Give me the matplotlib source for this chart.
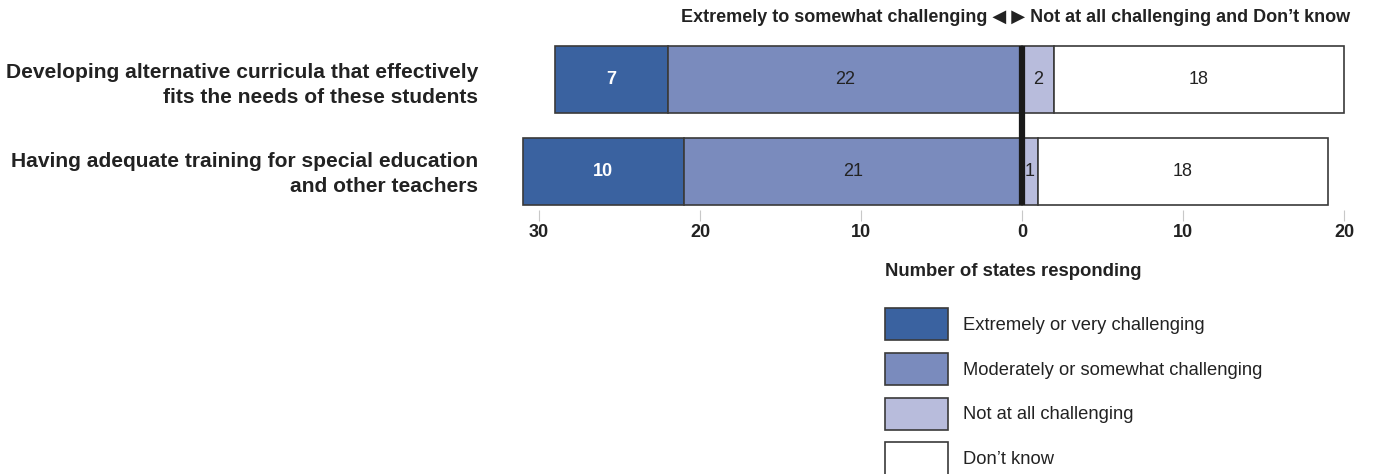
import matplotlib
matplotlib.use("Agg")
import matplotlib.pyplot as plt
from matplotlib.patches import Patch
from matplotlib import font_manager

categories = ["Developing alternative curricula that effectively\nfits the needs of these students",
              "Having adequate training for special education\nand other teachers"]
extremely = [7, 10]
moderately = [22, 21]
not_at_all = [2, 1]
dont_know = [18, 18]
series_names = ["Extremely or very challenging", "Moderately or somewhat challenging",
                "Not at all challenging", "Don\u2019t know"]
tick_values = [-30, -20, -10, 0, 10, 20]
tick_labels = ["30", "20", "10", "0", "10", "20"]

colors = ["#3A62A0", "#7A8BBD", "#B8BCDC", "#FFFFFF"]
edge = "#3a3a3a"

names = {f.name for f in font_manager.fontManager.ttflist}
narrow = "Liberation Sans Narrow" if "Liberation Sans Narrow" in names else "Liberation Sans"
plt.rcParams['font.family'] = ['Liberation Sans', 'DejaVu Sans']

W, H = 1390, 474
fig = plt.figure(figsize=(W/100, H/100), dpi=100)

# axes in pixel placement
scale = 16.1
x0pix = 1022
xmin, xmax = -31.3, 20.3
left_pix = x0pix + xmin*scale
right_pix = x0pix + xmax*scale
top_pix, bot_pix = 40, 210
ax = fig.add_axes([left_pix/W, 1-bot_pix/H, (right_pix-left_pix)/W, (bot_pix-top_pix)/H])
ax.set_xlim(xmin, xmax)
ypix0, ypitch = 79.5, 92
ax.set_ylim((bot_pix-ypix0)/ypitch, -(ypix0-top_pix)/ypitch)

ys = list(range(len(categories)))
bh = 0.73
for i, y in enumerate(ys):
    segs = [(-(extremely[i]+moderately[i]), extremely[i], colors[0]),
            (-moderately[i], moderately[i], colors[1]),
            (0, not_at_all[i], colors[2]),
            (not_at_all[i], dont_know[i], colors[3])]
    vals = [extremely[i], moderately[i], not_at_all[i], dont_know[i]]
    for k, (start, width, c) in enumerate(segs):
        ax.barh(y, width, left=start, height=bh, color=c, edgecolor=edge, linewidth=1.2, zorder=2)
        cx = start + width/2
        ax.text(cx, y, str(vals[k]), ha="center", va="center",
                color="white" if k == 0 else "#222222",
                fontweight="bold" if k == 0 else "normal", fontsize=13, zorder=4)

ax.vlines(0, -bh/2, 1+bh/2, color="#1a1a1a", linewidth=4.5, zorder=3)

for s in ax.spines.values():
    s.set_visible(False)
ax.set_yticks([])
ax.set_xticks(tick_values)
ax.set_xticklabels(tick_labels, fontfamily=narrow, fontweight="bold", fontsize=13)
ax.tick_params(axis="x", length=8, width=0.8, color="#c8c8c8", pad=2, labelcolor="#222222")

label_ypix = [85, 174]
for i, y in enumerate(ys):
    fig.text(478/W, 1-label_ypix[i]/H, categories[i], ha="right", va="center", fontsize=15.1,
             fontweight="bold", color="#222222", linespacing=1.35)

fig.text(1350/W, 1-18/H, "Extremely to somewhat challenging \u25C0 \u25B6 Not at all challenging and Don\u2019t know",
         ha="right", va="center", fontsize=13, fontweight="bold", color="#222222",
         family=[narrow, 'DejaVu Sans'])

fig.text(885/W, 1-272/H, "Number of states responding", ha="left", va="center",
         fontsize=13.3, fontweight="bold", color="#222222")

handles = [Patch(facecolor=colors[k], edgecolor=edge, linewidth=1.2) for k in range(4)]
fs = 13.2
leg = fig.legend(handles, series_names, loc="upper left", bbox_to_anchor=(885/W, 1-308/H),
                 frameon=False, fontsize=fs, handlelength=3.44, handleheight=2.32,
                 labelspacing=0.69, handletextpad=0.8, borderpad=0, borderaxespad=0)
for t in leg.get_texts():
    t.set_color("#222222")

fig.savefig("out.png", dpi=100)
